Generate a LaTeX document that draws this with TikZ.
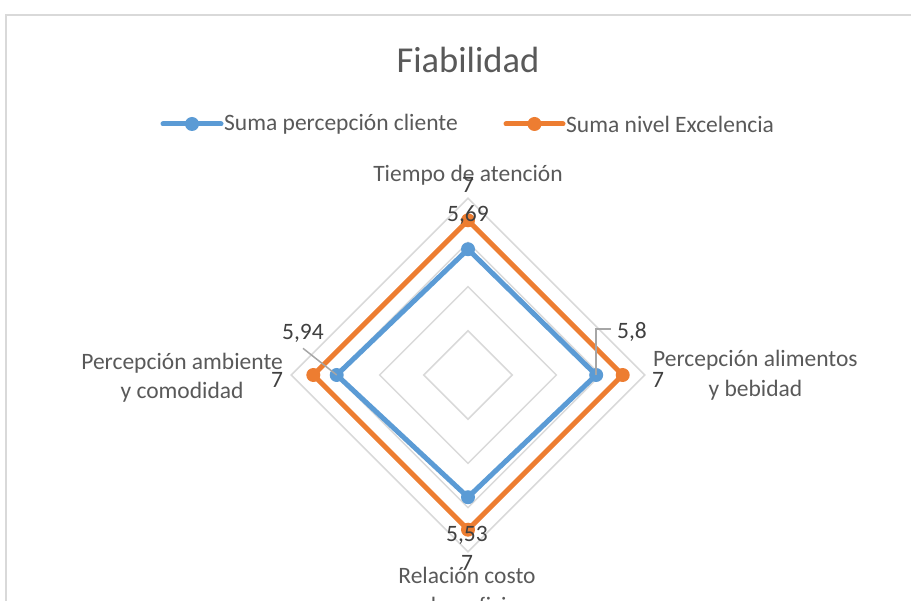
\documentclass[tikz,border=0pt]{standalone}
\usepackage{fontspec}
\setmainfont{Carlito}
\usetikzlibrary{calc}
\definecolor{serieA}{HTML}{5B9BD5}
\definecolor{serieB}{HTML}{ED7D31}
\definecolor{rejilla}{HTML}{D9D9D9}
\definecolor{guia}{HTML}{A6A6A6}
\definecolor{texto}{HTML}{595959}
\definecolor{cifra}{HTML}{404040}

\begin{document}
\begin{tikzpicture}[x=1pt, y=-1pt,
    etiqueta/.style={text=texto, font=\fontsize{23.5}{29.5}\selectfont, inner sep=0pt, align=center},
    dato/.style={text=cifra, font=\fontsize{23.5}{29.5}\selectfont, inner sep=0pt},
    serie/.style={line width=5pt, line join=round},
    punto/.style={circle, inner sep=0pt, minimum size=14pt}]

\useasboundingbox (0,0) rectangle (911,601);
\clip (0,0) rectangle (911,601);

% Chart frame, cut off at the right and at the bottom
    \draw [rejilla, line width=1.5pt] (6,620) -- (6,15) -- (930,15);

    % Title and legend
    \node [etiqueta, font=\fontsize{36.5}{40}\selectfont] (titulo) at (468,60) {Fiabilidad};

    \coordinate (leyA1) at (163,124);
    \coordinate (leyA2) at (221,124);
    \draw [serie, serieA, line cap=round] (leyA1) -- (leyA2);
    \node [punto, fill=serieA] (leyApunto) at ($(leyA1)!0.5!(leyA2)$) {};
    \node [etiqueta, anchor=west] (leyAtexto) at (224,124) {Suma percepción cliente};

    \coordinate (leyB1) at (506,124);
    \coordinate (leyB2) at (563,124);
    \draw [serie, serieB, line cap=round] (leyB1) -- (leyB2);
    \node [punto, fill=serieB] (leyBpunto) at ($(leyB1)!0.5!(leyB2)$) {};
    \node [etiqueta, anchor=west] (leyBtexto) at (566,124) {Suma nivel Excelencia};

    % Grid: one diamond every 2 units, 22.1 px per unit
    \coordinate (centro) at (468,375);
\foreach \r in {2,4,6,8} {
        \draw [rejilla, line width=1.5pt] ($(centro)+(0,-\r*22.1)$) -- ($(centro)+(\r*22.1,0)$)
            -- ($(centro)+(0,\r*22.1)$) -- ($(centro)+(-\r*22.1,0)$) -- cycle;
    }

    % Axis names
    \node [etiqueta] (eje1) at (468,175) {Tiempo de atención};
    \node [etiqueta, anchor=west] (eje2) at (653,375) {Percepción alimentos\\y bebidad};
    \node [etiqueta] (eje3) at (467,592) {Relación costo\\y beneficio};
    \node [etiqueta, anchor=east] (eje4) at (283,377.5) {Percepción ambiente\\y comodidad};

    % Series points
    \coordinate (A1) at ($(centro)+(0,-5.69*22.1)$);
    \coordinate (A2) at ($(centro)+(5.8*22.1,0)$);
    \coordinate (A3) at ($(centro)+(0,5.53*22.1)$);
    \coordinate (A4) at ($(centro)+(-5.94*22.1,0)$);
    \coordinate (B1) at ($(centro)+(0,-7*22.1)$);
    \coordinate (B2) at ($(centro)+(7*22.1,0)$);
    \coordinate (B3) at ($(centro)+(0,7*22.1)$);
    \coordinate (B4) at ($(centro)+(-7*22.1,0)$);

    \draw [serie, serieA] (A1) -- (A2) -- (A3) -- (A4) -- cycle;
    \draw [serie, serieB] (B1) -- (B2) -- (B3) -- (B4) -- cycle;
\foreach \i in {1,2,3,4} {
        \node [punto, fill=serieA] (pA\i) at (A\i) {};
        \node [punto, fill=serieB] (pB\i) at (B\i) {};
    }

    % Data labels
    \node [dato] (vB1) at (468,185) {7};
    \node [dato] (vA1) at (468,215) {5,69};
    \node [dato] (vB2) at (658,380) {7};
    \node [dato] (vA2) at (632,332) {5,8};
    \node [dato] (vB3) at (467,563) {7};
    \node [dato] (vA3) at (467,535) {5,53};
    \node [dato] (vB4) at (277,380) {7};
    \node [dato] (vA4) at (303,333) {5,94};

    % Leader lines
    \draw [guia, line width=1.5pt] ($(vA4.south)+(0,6)$) -- (pA4.center);
    \draw [guia, line width=1.5pt] ($(vA2.west)+(-6,-3)$) -| (pA2.center);

\end{tikzpicture}
\end{document}
